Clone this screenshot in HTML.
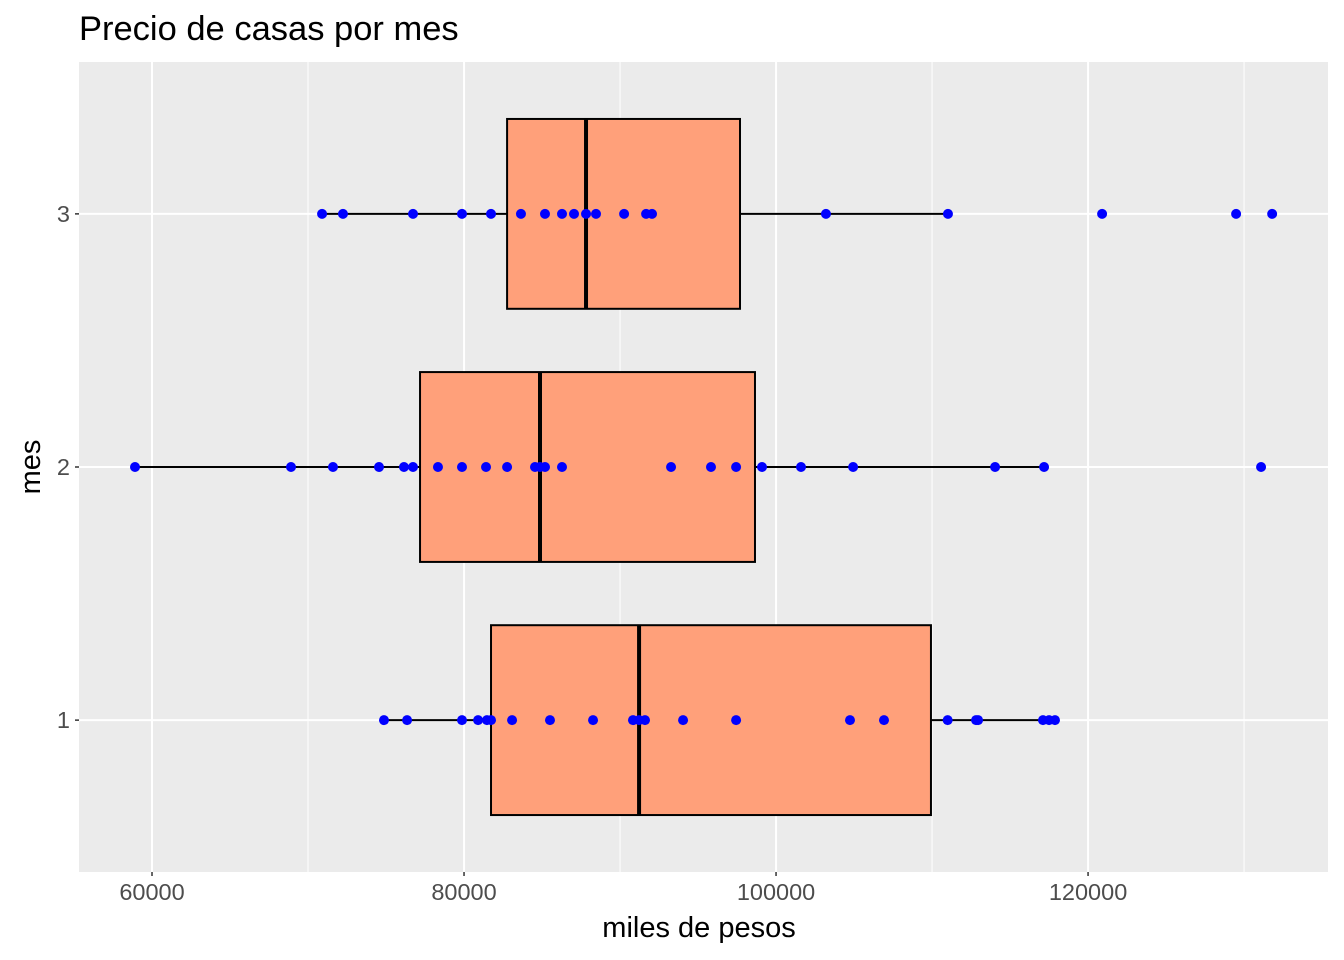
<!DOCTYPE html>
<html><head><meta charset="utf-8"><style>
body{margin:0;background:#fff;}
svg{display:block;font-family:"Liberation Sans",sans-serif;}
</style></head><body>
<svg id="chart" width="1344" height="960">
<text x="79" y="40" font-size="34.5" fill="#000">Precio de casas por mes</text>
<rect x="79" y="62" width="1249" height="810" fill="#ebebeb"/>
<g id="grid"></g><g id="marks"></g><g id="axes"></g>
<text x="699" y="937" font-size="29" text-anchor="middle" fill="#000">miles de pesos</text>
<text transform="translate(40,467) rotate(-90)" font-size="29" text-anchor="middle" fill="#000">mes</text>
</svg>
<script>
const categories=["1","2","3"];
const q1=[81730,77180,82760];
const medians=[91220,84870,87820];
const q3=[109930,98650,97690];
const whiskLo=[74870,58910,70900];
const whiskHi=[117880,117180,111020];
const pts1=[74870,76350,79870,80900,81470,81730,83080,85510,88270,90830,91220,91600,94040,97440,104740,106920,111000,112820,112950,117110,117500,117880];
const pts2=[58910,68910,71600,74550,76150,76730,78330,79870,81410,82760,84550,84870,85190,86280,93270,95830,97440,99100,101600,104940,114040,117180,131090];
const pts3=[70900,72240,76730,79870,81730,83650,85190,86280,87050,87820,88460,90260,91670,92050,103200,111020,120900,129490,131800];
const points=[pts1,pts2,pts3];
const xTicks=[60000,80000,100000,120000];
const xMinor=[70000,90000,110000,130000];

const NS="http://www.w3.org/2000/svg";
const X0=79,X1=1328,Y0=62,Y1=872,D0=55320,D1=135380;
const xs=v=>X0+(v-D0)/(D1-D0)*(X1-X0);
const ys=i=>Y1-((i+1)-0.4)/3.2*(Y1-Y0);
function mk(tag,attrs,parent){const e=document.createElementNS(NS,tag);for(const k in attrs)e.setAttribute(k,attrs[k]);parent.appendChild(e);return e;}
const grid=document.getElementById('grid'),marks=document.getElementById('marks'),axes=document.getElementById('axes');
xMinor.forEach(v=>{const l=mk('line',{x1:xs(v),x2:xs(v),y1:Y0,y2:Y1,stroke:'#fff','stroke-width':1},grid);

});
xTicks.forEach(v=>{const l=mk('line',{x1:xs(v),x2:xs(v),y1:Y0,y2:Y1,stroke:'#fff','stroke-width':2},grid);


const t=mk('line',{x1:xs(v),x2:xs(v),y1:Y1,y2:Y1+4,stroke:'#333','stroke-width':1.5},axes);


const tx=mk('text',{x:xs(v),y:Y1+28,'font-size':23.5,'text-anchor':'middle',fill:'#4d4d4d'},axes);tx.textContent=v;

});
categories.forEach((c,i)=>{const y=ys(i);
const l=mk('line',{x1:X0,x2:X1,y1:y,y2:y,stroke:'#fff','stroke-width':2},grid);


const t=mk('line',{x1:X0-4,x2:X0,y1:y,y2:y,stroke:'#333','stroke-width':1.5},axes);


const tx=mk('text',{x:X0-9,y:y+8,'font-size':23.5,'text-anchor':'end',fill:'#4d4d4d'},axes);tx.textContent=c;


const g=mk('g',{},marks);


const h=0.375*(Y1-Y0)/3.2;
mk('line',{x1:xs(whiskLo[i]),x2:xs(q1[i]),y1:y,y2:y,stroke:'#000','stroke-width':2},g);
mk('line',{x1:xs(q3[i]),x2:xs(whiskHi[i]),y1:y,y2:y,stroke:'#000','stroke-width':2},g);
mk('rect',{x:xs(q1[i]),y:y-h,width:xs(q3[i])-xs(q1[i]),height:2*h,fill:'#ffa07a',stroke:'#000','stroke-width':2},g);
mk('line',{x1:xs(medians[i]),x2:xs(medians[i]),y1:y-h,y2:y+h,stroke:'#000','stroke-width':4},g);
points[i].forEach(v=>{const p=mk('circle',{cx:xs(v),cy:y,r:5,fill:'#0000ff'},marks);

});
});
</script>
</body></html>
